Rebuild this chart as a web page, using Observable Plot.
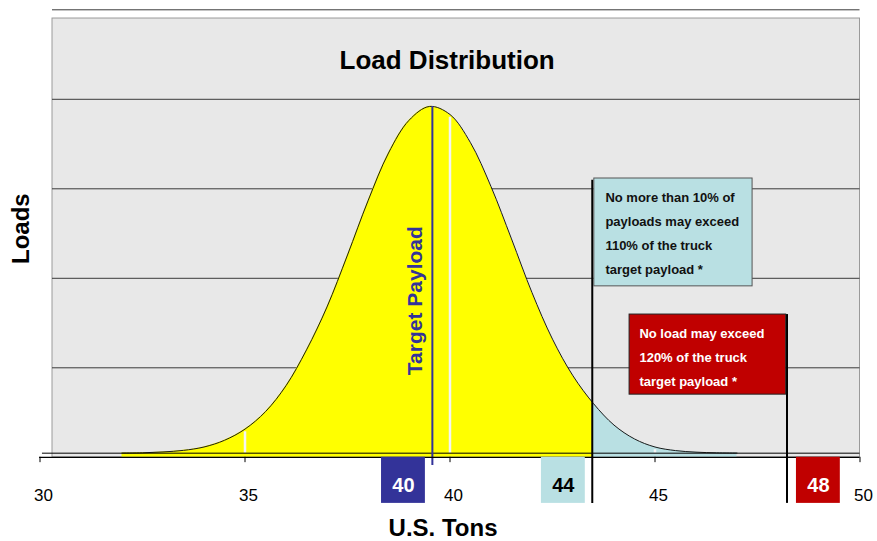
<!DOCTYPE html>
<html><head><meta charset="utf-8">
<script src="https://cdn.jsdelivr.net/npm/d3@7"></script>
<script src="https://cdn.jsdelivr.net/npm/@observablehq/plot@0.6"></script>
<style>
html,body{margin:0;padding:0;background:#fff;}
#chart{width:877px;height:541px;}
</style></head><body><div id="chart"></div>
<script>
// ---- data ----
const tons  = [32, 32.5, 33, 33.5, 34, 34.5, 35, 35.5, 36, 36.5, 37, 37.5, 38, 38.5, 39, 39.5, 40, 40.5, 41, 41.5, 42, 42.5, 43, 43.5, 44, 44.5, 45, 45.5, 46, 46.5, 47];
const loads = [0.95, 1.0, 1.2, 1.55, 2.3, 3.8, 6.3, 10.2, 16.0, 24.0, 33.6, 45.2, 57.3, 68.0, 75.3, 78.4, 76.6, 70.3, 60.5, 48.8, 36.8, 26.4, 18.2, 12.0, 7.2, 4.1, 2.3, 1.5, 1.15, 1.0, 0.95];
const xTicks = [30, 35, 40, 45, 50];
const gridLoads = [20, 40, 60, 80, 100];
const whiteMarks = [35, 40, 45];
const curveFloor = 0.92;
const targetPayload = 39.57;   // "Target Payload" line
const limit110 = 43.47;        // 110% line
const limit120 = 48.22;        // 120% line
const splitTons = 43.5;        // yellow / light-blue boundary
const limitLabels = ["40", "44", "48"];
const titleText = "Load Distribution";
const xLabel = "U.S. Tons";
const yLabel = "Loads";
const targetLabel = "Target Payload";
const note110 = "No more than 10% of\npayloads may exceed\n110% of the truck\ntarget payload *";
const note120 = "No load may exceed\n120% of the truck\ntarget payload *";

// ---- build ----
const curve = tons.map((t, i) => ({tons: t, loads: loads[i]}));
const valueAt = t => curve.find(d => d.tons === t).loads;
const peak = d3.max(loads);

const FONT = '"Liberation Sans", Arial, Helvetica, sans-serif';
const C = {bg: "#e8e8e8", yellow: "#ffff00", blue: "#b9e0e3", red: "#c00000", navy: "#333399", grid: "#3a3a3a"};

const limitBoxes = [
  {label: limitLabels[0], at: targetPayload, o1: -1.24, o2: -0.17, fill: C.navy, text: "white"},
  {label: limitLabels[1], at: limit110,      o1: -1.24, o2: -0.17, fill: C.blue, text: "black"},
  {label: limitLabels[2], at: limit120,      o1: 0.23,  o2: 1.30,  fill: C.red,  text: "white"}
];
const BOX_BOTTOM = -10.3;

const chart = Plot.plot({
  width: 877, height: 541,
  marginLeft: 39.5, marginRight: 17.5, marginTop: 9.3, marginBottom: 84.2,
  x: {domain: [30, 50], axis: null},
  y: {domain: [0, 100], axis: null},
  style: {fontFamily: FONT, background: "white", overflow: "visible"},
  marks: [
    // plot area background
    Plot.rect([0], {x1: 30.305, x2: 50, y1: 0, y2: 98.05, fill: C.bg, stroke: "#9a9a9a", strokeWidth: 1}),
    Plot.ruleY(gridLoads, {x1: 30.305, x2: 50, stroke: C.grid, strokeWidth: 1}),
    // distribution fills
    Plot.areaY(curve.filter(d => d.tons <= splitTons), {x: "tons", y: "loads", fill: C.yellow, curve: "catmull-rom"}),
    Plot.areaY(curve.filter(d => d.tons >= splitTons), {x: "tons", y: "loads", fill: C.blue, curve: "catmull-rom"}),
    Plot.line(curve, {x: "tons", y: "loads", stroke: "#1a1a1a", strokeWidth: 1, curve: "catmull-rom"}),
    Plot.ruleX(whiteMarks, {x: d => d, y1: curveFloor, y2: d => valueAt(d) - 0.6, stroke: "#f4f4f4", strokeWidth: 2.5}),
    Plot.ruleY([curveFloor], {x1: 30.06, x2: 50, stroke: "#000", strokeWidth: 1}),
    // target payload
    Plot.ruleX([targetPayload], {y1: -1.83, y2: peak, stroke: C.navy, strokeWidth: 2}),
    Plot.text([targetLabel], {x: 39.15, y: 35.0, text: d => d, rotate: -90, fill: C.navy, fontSize: 21, fontWeight: "bold"}),
    // limit lines
    Plot.ruleX([limit110], {y1: BOX_BOTTOM, y2: 61.9, stroke: "#000", strokeWidth: 2}),
    Plot.ruleX([limit120], {y1: BOX_BOTTOM, y2: 31.9, stroke: "#000", strokeWidth: 2}),
    // notes
    Plot.rect([0], {x1: 43.52, x2: 47.38, y1: 38.2, y2: 62.3, fill: C.blue, stroke: "#555", strokeWidth: 1}),
    Plot.text([note110], {x: 43.79, y: 50.8, text: d => d, textAnchor: "start", lineAnchor: "middle", lineHeight: 1.85, fontSize: 13, fontWeight: "bold", fill: "#111"}),
    Plot.rect([0], {x1: 44.38, x2: 48.2, y1: 14.0, y2: 31.9, fill: C.red, stroke: "#222", strokeWidth: 1}),
    Plot.text([note120], {x: 44.62, y: 23.0, text: d => d, textAnchor: "start", lineAnchor: "middle", lineHeight: 1.85, fontSize: 13, fontWeight: "bold", fill: "white"}),
    // x axis
    Plot.ruleY([0], {x1: 29.99, x2: 50, stroke: "#000", strokeWidth: 1.2}),
    Plot.ruleX(xTicks, {x: d => d, y1: 0, y2: -1.2, stroke: "#000", strokeWidth: 1}),
    Plot.text(xTicks, {x: d => d, text: d => String(d), frameAnchor: "bottom", lineAnchor: "top", dy: 31.2, dx: 3.5, fontSize: 17, fill: "#000"}),
    // limit boxes under the axis
    Plot.rect(limitBoxes, {x1: d => d.at + d.o1, x2: d => d.at + d.o2, y1: BOX_BOTTOM, y2: 0, fill: d => d.fill}),
    Plot.text(limitBoxes, {x: d => d.at + (d.o1 + d.o2) / 2, y: -6.3, text: "label", fill: d => d.text, fontSize: 20, fontWeight: "bold"}),
    // titles
    Plot.text([titleText], {x: 39.93, y: 88.6, text: d => d, fontSize: 26, fontWeight: "bold", fill: "#000"}),
    Plot.text([xLabel], {x: 39.83, y: -15.9, text: d => d, fontSize: 24, fontWeight: "bold", fill: "#000"}),
    Plot.text([yLabel], {x: 29.55, y: 51.1, text: d => d, rotate: -90, fontSize: 24, fontWeight: "bold", fill: "#000"})
  ]
});
document.getElementById("chart").append(chart);
</script>
</body></html>
